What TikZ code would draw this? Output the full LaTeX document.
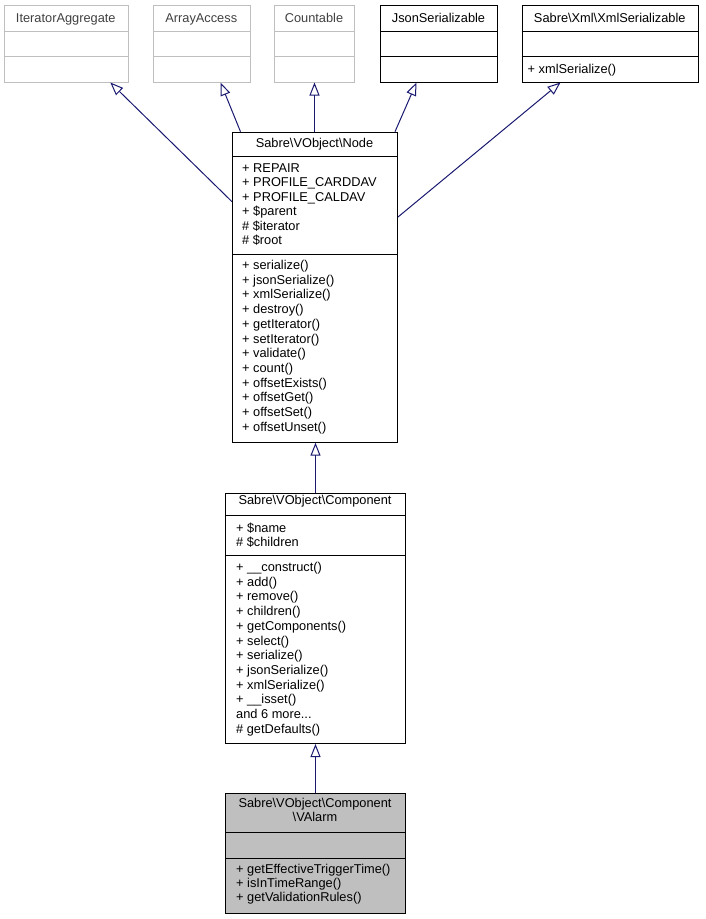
\documentclass[tikz,border=0pt]{standalone}
\usepackage{fontspec}
\setmainfont{Liberation Sans}
\usetikzlibrary{arrows.meta}
\definecolor{edgeblue}{HTML}{191970}
\definecolor{greyline}{HTML}{BFBFBF}
\definecolor{greytext}{HTML}{404040}
\definecolor{valarmfill}{HTML}{BFBFBF}

\begin{document}
\begin{tikzpicture}
        [
            x=1pt, y=-1pt,
            every node/.style={font=\fontsize{12.8}{14}\selectfont},
            cls/.style={rectangle, draw=black, line width=1pt, anchor=north west, inner sep=0pt},
            greycls/.style={cls, draw=greyline},
            sep/.style={line width=1pt},
            head/.style={anchor=base, inner sep=0pt},
            member/.style={anchor=base west, inner sep=0pt},
            inherit/.style={draw=edgeblue, line width=1pt, -{Triangle[open, length=13pt, width=10pt]}},
        ]
    \useasboundingbox (0,0) rectangle (705,919);

    % interfaces on top
    \node[greycls, minimum width=124.4pt, minimum height=76.5pt] (iter) at (3.6,5){};
    \node[greycls, minimum width=96.5pt, minimum height=76.5pt] (array) at (153,5){};
    \node[greycls, minimum width=80pt, minimum height=76.5pt] (countable) at (274,5){};
    \node[cls, minimum width=117pt, minimum height=76.5pt] (json) at (380,5){};
    \node[cls, minimum width=176.5pt, minimum height=76.5pt] (xml) at (521.5,5){};
    \foreach \b in {iter,array,countable}{
        \draw[sep, greyline] (\b.west |- 0,31.5) -- (\b.east |- 0,31.5);
        \draw[sep, greyline] (\b.west |- 0,56.5) -- (\b.east |- 0,56.5);
    }
    \foreach \b in {json,xml}{
        \draw[sep] (\b.west |- 0,31.5) -- (\b.east |- 0,31.5);
        \draw[sep] (\b.west |- 0,56.5) -- (\b.east |- 0,56.5);
    }
    \node[head, text=greytext] (iterhead) at (65.8,22){IteratorAggregate};
    \node[head, text=greytext] (arrayhead) at (201.25,22){ArrayAccess};
    \node[head, text=greytext] (countablehead) at (314,22){Countable};
    \node[head] (jsonhead) at (438.5,22){JsonSerializable};
    \node[head] (xmlhead) at (609.75,22){Sabre\textbackslash Xml\textbackslash XmlSerializable};
    \node[member] (xmlop) at (527.5,73.5){+ xmlSerialize()};

    % Node
    \node[cls, minimum width=165pt, minimum height=310pt] (node) at (232,131.7){};
    \draw[sep] (node.west |- 0,156) -- (node.east |- 0,156);
    \draw[sep] (node.west |- 0,254.5) -- (node.east |- 0,254.5);
    \node[head] (nodehead) at (314.5,147.5){Sabre\textbackslash VObject\textbackslash Node};
    \foreach \t [count=\i from 0] in {+ REPAIR, + PROFILE\_CARDDAV, + PROFILE\_CALDAV,
        + \$parent, \# \$iterator, \# \$root}
        \node[member] (nodeattr\i) at (242,172.5+14.4*\i){\t};
    \foreach \t [count=\i from 0] in {+ serialize(), + jsonSerialize(), + xmlSerialize(),
        + destroy(), + getIterator(), + setIterator(), + validate(), + count(),
        + offsetExists(), + offsetGet(), + offsetSet(), + offsetUnset()}
        \node[member] (nodeop\i) at (242,269.5+14.7*\i){\t};

    % Component
    \node[cls, minimum width=180pt, minimum height=250pt] (comp) at (225,493){};
    \draw[sep] (comp.west |- 0,515) -- (comp.east |- 0,515);
    \draw[sep] (comp.west |- 0,555) -- (comp.east |- 0,555);
    \node[head] (comphead) at (315,504.5){Sabre\textbackslash VObject\textbackslash Component};
    \foreach \t [count=\i from 0] in {+ \$name, \# \$children}
        \node[member] (compattr\i) at (236,532.5+14*\i){\t};
    \foreach \t [count=\i from 0] in {+ \_\_construct(), + add(), + remove(), + children(),
        + getComponents(), + select(), + serialize(), + jsonSerialize(), + xmlSerialize(),
        + \_\_isset(), and 6 more.{}.{}., \# getDefaults()}
        \node[member] (compop\i) at (236,571.5+14.72*\i){\t};

    % VAlarm
    \node[cls, fill=valarmfill, minimum width=180pt, minimum height=120pt] (valarm) at (225,793){};
    \draw[sep] (valarm.west |- 0,832) -- (valarm.east |- 0,832);
    \draw[sep] (valarm.west |- 0,858) -- (valarm.east |- 0,858);
    \node[head] (valarmhead) at (315,807.5){Sabre\textbackslash VObject\textbackslash Component};
    \node[head] (valarmhead2) at (315,821.5){\textbackslash VAlarm};
    \foreach \t [count=\i from 0] in {+ getEffectiveTriggerTime(), + isInTimeRange(),
        + getValidationRules()}
        \node[member] (valarmop\i) at (236,873.5+14*\i){\t};

    % inheritance
    \draw[inherit] ([yshift=-70pt]node.north west) -- ([xshift=44pt]iter.south);
    \draw[inherit] ([xshift=8.5pt]node.north west) -- ([xshift=18.75pt]array.south);
    \draw[inherit] (countable.south |- node.north) -- (countable.south);
    \draw[inherit] ([xshift=-3pt]node.north east) -- ([xshift=-22.5pt]json.south);
    \draw[inherit] ([yshift=-85.3pt]node.north east) -- ([xshift=-49.75pt]xml.south);
    \draw[inherit] (comp.north) -- (comp.north |- node.south);
    \draw[inherit] (valarm.north) -- (comp.south);
    \end{tikzpicture}
\end{document}
